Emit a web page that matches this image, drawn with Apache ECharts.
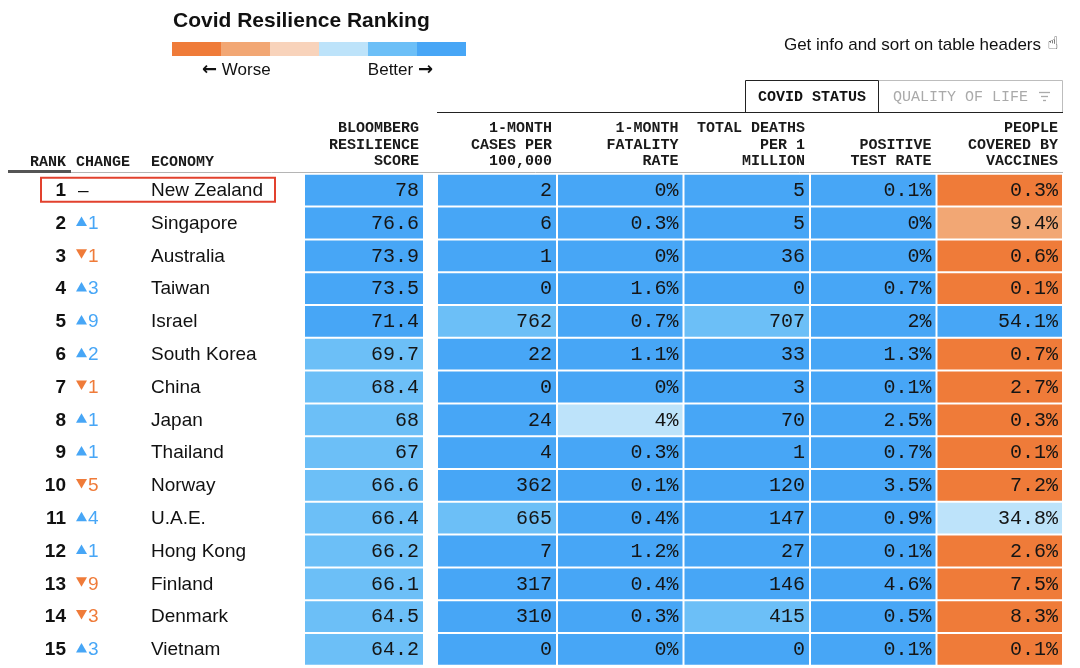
<!DOCTYPE html>
<html>
<head>
<meta charset="utf-8">
<script src="https://cdn.jsdelivr.net/npm/echarts@6/dist/echarts.min.js"></script>
<style>
html,body{margin:0;padding:0;background:#ffffff;}
#chart{width:1080px;height:668px;}
</style>
</head>
<body>
<div id="chart"></div>
<script>
// ---------------- DATA ----------------
const ranks = [1, 2, 3, 4, 5, 6, 7, 8, 9, 10, 11, 12, 13, 14, 15];
const rankChanges = [0, 1, -1, 3, 9, 2, -1, 1, 1, -5, 4, 1, -9, -3, 3];
const economies = ['New Zealand', 'Singapore', 'Australia', 'Taiwan', 'Israel', 'South Korea', 'China', 'Japan',
  'Thailand', 'Norway', 'U.A.E.', 'Hong Kong', 'Finland', 'Denmark', 'Vietnam'];
const resilienceScore = [78, 76.6, 73.9, 73.5, 71.4, 69.7, 68.4, 68, 67, 66.6, 66.4, 66.2, 66.1, 64.5, 64.2];
const casesPer100k = [2, 6, 1, 0, 762, 22, 0, 24, 4, 362, 665, 7, 317, 310, 0];
const fatalityRate = [0, 0.3, 0, 1.6, 0.7, 1.1, 0, 4, 0.3, 0.1, 0.4, 1.2, 0.4, 0.3, 0];
const deathsPerMillion = [5, 5, 36, 0, 707, 33, 3, 70, 1, 120, 147, 27, 146, 415, 0];
const positiveTestRate = [0.1, 0, 0, 0.7, 2, 1.3, 0.1, 2.5, 0.7, 3.5, 0.9, 0.1, 4.6, 0.5, 0.1];
const vaccineCoverage = [0.3, 9.4, 0.6, 0.1, 54.1, 0.7, 2.7, 0.3, 0.1, 7.2, 34.8, 2.6, 7.5, 8.3, 0.1];

// rating level of each cell, 0 = worst (orange) ... 5 = best (blue)
const scoreLevel    = [5, 5, 5, 5, 5, 4, 4, 4, 4, 4, 4, 4, 4, 4, 4];
const casesLevel    = [5, 5, 5, 5, 4, 5, 5, 5, 5, 5, 4, 5, 5, 5, 5];
const fatalityLevel = [5, 5, 5, 5, 5, 5, 5, 3, 5, 5, 5, 5, 5, 5, 5];
const deathsLevel   = [5, 5, 5, 5, 4, 5, 5, 5, 5, 5, 5, 5, 5, 4, 5];
const positiveLevel = [5, 5, 5, 5, 5, 5, 5, 5, 5, 5, 5, 5, 5, 5, 5];
const vaccineLevel  = [0, 1, 0, 0, 5, 0, 0, 0, 0, 0, 3, 0, 0, 0, 0];

const leftHeaders = ['RANK', 'CHANGE', 'ECONOMY'];
const scoreHeader = 'BLOOMBERG\nRESILIENCE\nSCORE';
const casesHeader = '1-MONTH\nCASES PER\n100,000';
const restHeaders = ['1-MONTH\nFATALITY\nRATE', 'TOTAL DEATHS\nPER 1\nMILLION', 'POSITIVE\nTEST RATE', 'PEOPLE\nCOVERED BY\nVACCINES'];
const highlightedRow = 0;

// ---------------- STYLE / LAYOUT ----------------
const levelColors = ['#ef7b39', '#f2a774', '#f8d3bb', '#bde3fa', '#6cbff7', '#47a6f6'];
const SANS = "'Liberation Sans', Arial, Helvetica, sans-serif";
const MONO = "'Liberation Mono', 'DejaVu Sans Mono', monospace";
const TOP = 173.8, ROWH = 32.8, NROWS = ranks.length;
const gridDefs = [
  { left: 0, width: 300 },     // rank / change / economy
  { left: 304, width: 120 },   // score
  { left: 437, width: 120 },   // cases
  { left: 557, width: 506 }    // fatality / deaths / positive / vaccines
];

const pct = v => v + '%';
const num = v => String(v);

function cellSeries(gridIndex, columns) {
  const data = [];
  columns.forEach((col, ci) => {
    col.values.forEach((v, ri) => {
      data.push({ value: [ci, ri], txt: col.fmt(v), lvl: col.levels[ri] });
    });
  });
  return {
    type: 'custom',
    xAxisIndex: gridIndex, yAxisIndex: gridIndex,
    data: data,
    encode: { x: 0, y: 1 },
    silent: true,
    renderItem: function (params, api) {
      const d = data[params.dataIndex];
      const c = api.coord([api.value(0), api.value(1)]);
      const s = api.size([1, 1]);
      const x0 = c[0] - s[0] / 2 + 1, y0 = c[1] - s[1] / 2 + 1;
      const w = s[0] - 2, h = s[1] - 2;
      return {
        type: 'group',
        children: [
          { type: 'rect', shape: { x: x0, y: y0, width: w, height: h }, style: { fill: levelColors[d.lvl] } },
          { type: 'text', style: { text: d.txt, x: x0 + w - 4, y: c[1] + 0.5,
              align: 'right', textAlign: 'right', verticalAlign: 'middle', textVerticalAlign: 'middle',
              font: '20px ' + MONO, fill: '#151515' } }
        ]
      };
    }
  };
}

const leftSeries = {
  type: 'custom',
  xAxisIndex: 0, yAxisIndex: 0,
  data: ranks.map((r, i) => [0, i]),
  encode: { x: 0, y: 1 },
  silent: true,
  renderItem: function (params, api) {
    const i = params.dataIndex;
    const cy = api.coord([0, api.value(1)])[1];
    const ch = rankChanges[i];
    const children = [
      { type: 'text', style: { text: String(ranks[i]), x: 66, y: cy + 0.5, align: 'right', textAlign: 'right',
          verticalAlign: 'middle', textVerticalAlign: 'middle', font: 'bold 19px ' + SANS, fill: '#111' } },
      { type: 'text', style: { text: economies[i], x: 151, y: cy + 0.5, align: 'left', textAlign: 'left',
          verticalAlign: 'middle', textVerticalAlign: 'middle', font: '19px ' + SANS, fill: '#111' } }
    ];
    if (ch === 0) {
      children.push({ type: 'text', style: { text: '–', x: 78, y: cy + 0.5, align: 'left', textAlign: 'left',
          verticalAlign: 'middle', textVerticalAlign: 'middle', font: '19px ' + SANS, fill: '#111' } });
    } else {
      const col = ch > 0 ? levelColors[5] : levelColors[0];
      const pts = ch > 0 ? [[76, cy + 3], [87, cy + 3], [81.5, cy - 6.5]] : [[76, cy - 6.5], [87, cy - 6.5], [81.5, cy + 3]];
      children.push({ type: 'polygon', shape: { points: pts }, style: { fill: col } });
      children.push({ type: 'text', style: { text: String(Math.abs(ch)), x: 88, y: cy + 0.5, align: 'left', textAlign: 'left',
          verticalAlign: 'middle', textVerticalAlign: 'middle', font: '19px ' + SANS, fill: col } });
    }
    if (i === highlightedRow) {
      children.push({ type: 'rect', shape: { x: 41, y: cy - 12.5, width: 234, height: 24 },
        style: { fill: null, stroke: '#e2412e', lineWidth: 2 } });
    }
    return { type: 'group', children: children };
  }
};

const grids = gridDefs.map(g => ({ left: g.left, width: g.width, top: TOP, height: ROWH * NROWS, containLabel: false }));
const xCats = [leftHeaders, [scoreHeader], [casesHeader], restHeaders];
const xAxes = xCats.map((cats, gi) => ({ type: 'category', gridIndex: gi, data: cats, show: false }));
const yAxes = gridDefs.map((g, gi) => ({ type: 'category', gridIndex: gi, data: economies, inverse: true, show: false }));

// headers
function headerText(text, xRight) {
  return { type: 'text', style: { text: text, x: xRight, y: 169.5, align: 'right', textAlign: 'right',
    verticalAlign: 'bottom', textVerticalAlign: 'bottom', lineHeight: 16.5, font: 'bold 15px ' + MONO, fill: '#1a1a1a' } };
}
const headerEls = [];
headerEls.push(headerText(scoreHeader, gridDefs[1].left + gridDefs[1].width - 5));
headerEls.push(headerText(casesHeader, gridDefs[2].left + gridDefs[2].width - 5));
restHeaders.forEach((h, k) => {
  const cw = gridDefs[3].width / restHeaders.length;
  headerEls.push(headerText(h, gridDefs[3].left + cw * (k + 1) - 5));
});
headerEls.push({ type: 'text', style: { text: leftHeaders[0], x: 66, y: 169.5, align: 'right', textAlign: 'right',
  verticalAlign: 'bottom', textVerticalAlign: 'bottom', font: 'bold 15px ' + MONO, fill: '#1a1a1a' } });
headerEls.push({ type: 'text', style: { text: leftHeaders[1], x: 76, y: 169.5, align: 'left', textAlign: 'left',
  verticalAlign: 'bottom', textVerticalAlign: 'bottom', font: 'bold 15px ' + MONO, fill: '#1a1a1a' } });
headerEls.push({ type: 'text', style: { text: leftHeaders[2], x: 151, y: 169.5, align: 'left', textAlign: 'left',
  verticalAlign: 'bottom', textVerticalAlign: 'bottom', font: 'bold 15px ' + MONO, fill: '#1a1a1a' } });

const legendEls = levelColors.map((c, k) => ({ type: 'rect', shape: { x: 172 + k * 49, y: 42, width: 49, height: 14 }, style: { fill: c } }));

const graphicEls = [
  { type: 'text', style: { text: 'Covid Resilience Ranking', x: 173, y: 21.5, align: 'left', textAlign: 'left',
      verticalAlign: 'middle', textVerticalAlign: 'middle', font: 'bold 21px ' + SANS, fill: '#111' } },
  ...legendEls,
  { type: 'text', style: { text: '{a|←} Worse', x: 202, y: 70, align: 'left', textAlign: 'left',
      verticalAlign: 'middle', textVerticalAlign: 'middle', font: '17px ' + SANS, fill: '#111',
      rich: { a: { font: 'bold 18px "DejaVu Sans"', fill: '#111' } } } },
  { type: 'text', style: { text: 'Better {a|→}', x: 433, y: 70, align: 'right', textAlign: 'right',
      verticalAlign: 'middle', textVerticalAlign: 'middle', font: '17px ' + SANS, fill: '#111',
      rich: { a: { font: 'bold 18px "DejaVu Sans"', fill: '#111' } } } },
  { type: 'text', style: { text: 'Get info and sort on table headers', x: 1041, y: 45, align: 'right', textAlign: 'right',
      verticalAlign: 'middle', textVerticalAlign: 'middle', font: '17px ' + SANS, fill: '#111' } },
  { type: 'text', style: { text: '☝', x: 1053, y: 44, align: 'center', textAlign: 'center',
      verticalAlign: 'middle', textVerticalAlign: 'middle', font: 'bold 18px "DejaVu Sans"', fill: '#111' } },
  // tabs
  { type: 'rect', shape: { x: 878.5, y: 80.5, width: 184, height: 32 }, style: { fill: '#fff', stroke: '#bdbdbd', lineWidth: 1 } },
  { type: 'rect', shape: { x: 745.5, y: 80.5, width: 133, height: 32 }, style: { fill: '#fff', stroke: '#222', lineWidth: 1 } },
  { type: 'text', style: { text: 'COVID STATUS', x: 812, y: 97, align: 'center', textAlign: 'center',
      verticalAlign: 'middle', textVerticalAlign: 'middle', font: 'bold 15px ' + MONO, fill: '#111' } },
  { type: 'text', style: { text: 'QUALITY OF LIFE', x: 893, y: 97, align: 'left', textAlign: 'left',
      verticalAlign: 'middle', textVerticalAlign: 'middle', font: '15px ' + MONO, fill: '#aaaaaa' } },
  { type: 'line', shape: { x1: 1039, y1: 92.5, x2: 1050, y2: 92.5 }, style: { stroke: '#aaa', lineWidth: 1.3 } },
  { type: 'line', shape: { x1: 1041, y1: 96.5, x2: 1048, y2: 96.5 }, style: { stroke: '#aaa', lineWidth: 1.3 } },
  { type: 'line', shape: { x1: 1043, y1: 100.5, x2: 1046, y2: 100.5 }, style: { stroke: '#aaa', lineWidth: 1.3 } },
  // rules
  { type: 'line', shape: { x1: 437, y1: 112.5, x2: 1063, y2: 112.5 }, style: { stroke: '#222', lineWidth: 1 } },
  { type: 'line', shape: { x1: 8, y1: 172.5, x2: 1063, y2: 172.5 }, style: { stroke: '#b5b5b5', lineWidth: 1 } },
  { type: 'line', shape: { x1: 8, y1: 171.5, x2: 71, y2: 171.5 }, style: { stroke: '#555', lineWidth: 3 } },
  ...headerEls
];

const option = {
  animation: false,
  backgroundColor: '#ffffff',
  grid: grids,
  xAxis: xAxes,
  yAxis: yAxes,
  graphic: { elements: graphicEls },
  series: [
    leftSeries,
    cellSeries(1, [{ values: resilienceScore, levels: scoreLevel, fmt: num }]),
    cellSeries(2, [{ values: casesPer100k, levels: casesLevel, fmt: num }]),
    cellSeries(3, [
      { values: fatalityRate, levels: fatalityLevel, fmt: pct },
      { values: deathsPerMillion, levels: deathsLevel, fmt: num },
      { values: positiveTestRate, levels: positiveLevel, fmt: pct },
      { values: vaccineCoverage, levels: vaccineLevel, fmt: pct }
    ])
  ]
};

const chart = echarts.init(document.getElementById('chart'), null, { renderer: 'canvas' });
chart.setOption(option);
</script>
</body>
</html>
